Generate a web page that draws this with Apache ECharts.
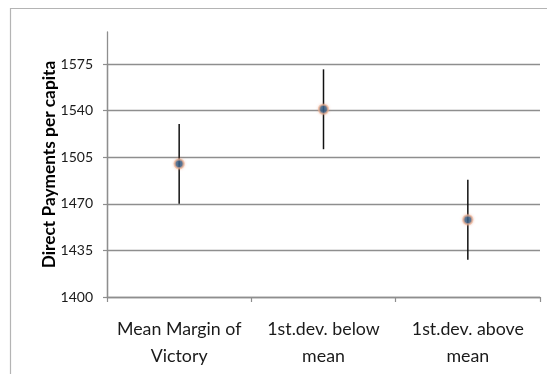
<!DOCTYPE html>
<html>
<head>
<meta charset="utf-8">
<script src="https://cdn.jsdelivr.net/npm/echarts@6/dist/echarts.min.js"></script>
<style>
  html, body { margin: 0; padding: 0; background: #fff; }
  #chart { width: 547px; height: 374px; }
</style>
</head>
<body>
<div id="chart"></div>
<script>
// Groups along the horizontal axis
const categories = ['Mean Margin of\nVictory', '1st.dev. below\nmean', '1st.dev. above\nmean'];
// Point estimates and the ends of their error bars
const means = [1500, 1541, 1458];
const lower = [1470, 1511, 1428];
const upper = [1530, 1571, 1488];
// Value axis range and step
const yMin = 1400;
const yMax = 1575;
const yStep = 35;
const yAxisTitle = 'Direct Payments per capita';

const chart = echarts.init(document.getElementById('chart'), null, { renderer: 'canvas' });

const labelFont = 'Lato, "Open Sans", sans-serif';
const gridColor = '#8e8e8e';
const plotLeft = 107, plotRight = 7, plotBottom = 77;

chart.setOption({
  animation: false,
  backgroundColor: '#fff',
  graphic: [{
    type: 'rect',
    shape: { x: 10.5, y: 8.5, width: 600, height: 420 },
    style: { fill: 'none', stroke: '#b4b4b4', lineWidth: 1.2 },
    silent: true
  }],
  grid: [
    { left: plotLeft, right: plotRight, top: 64, bottom: plotBottom },
    // taller plot frame: upward extension of the value axis line and the axis title
    { left: plotLeft, right: plotRight, top: 32, bottom: plotBottom }
  ],
  xAxis: [{
    type: 'category',
    gridIndex: 0,
    data: categories,
    boundaryGap: true,
    axisLine: { lineStyle: { color: gridColor, width: 1.3 } },
    axisTick: { show: true, length: 5, lineStyle: { color: gridColor, width: 1.2 } },
    axisLabel: {
      interval: 0,
      hideOverlap: false,
      color: '#1a1a1a',
      fontFamily: labelFont,
      fontSize: 17.8,
      lineHeight: 27,
      margin: 19
    }
  }, {
    type: 'category', gridIndex: 1, data: categories, show: false
  }],
  yAxis: [{
    type: 'value',
    gridIndex: 0,
    min: yMin,
    max: yMax,
    interval: yStep,
    axisLine: { show: true, lineStyle: { color: gridColor, width: 1.3 } },
    axisTick: { show: true, length: 4, lineStyle: { color: gridColor, width: 1.2 } },
    axisLabel: {
      color: '#1a1a1a',
      fontFamily: labelFont,
      fontSize: 14,
      margin: 14,
      formatter: v => String(v)
    },
    splitLine: { show: true, lineStyle: { color: gridColor, width: 1.3 } }
  }, {
    type: 'value',
    gridIndex: 1,
    min: 0,
    max: 1,
    name: yAxisTitle,
    nameLocation: 'middle',
    nameGap: 49,
    nameRotate: 90,
    nameTextStyle: {
      color: '#000',
      fontFamily: labelFont,
      fontWeight: 'bold',
      fontSize: 17.3
    },
    axisLine: { show: true, lineStyle: { color: gridColor, width: 1.3 } },
    axisTick: { show: false },
    axisLabel: { show: false },
    splitLine: { show: false }
  }],
  series: [{
    // vertical error bars
    type: 'custom',
    xAxisIndex: 0,
    yAxisIndex: 0,
    data: categories.map((c, i) => [i, lower[i], upper[i]]),
    renderItem: function (params, api) {
      const lo = api.coord([api.value(0), api.value(1)]);
      const hi = api.coord([api.value(0), api.value(2)]);
      return {
        type: 'line',
        shape: { x1: lo[0], y1: lo[1], x2: hi[0], y2: hi[1] },
        style: { stroke: '#111', lineWidth: 1.5 }
      };
    },
    z: 2
  }, {
    type: 'scatter',
    xAxisIndex: 0,
    yAxisIndex: 0,
    data: means,
    symbol: 'circle',
    symbolSize: 9,
    itemStyle: {
      color: '#1d5587',
      borderColor: 'rgba(236,176,146,0.8)',
      borderWidth: 2.2,
      shadowBlur: 3,
      shadowColor: 'rgba(230,150,120,0.5)'
    },
    z: 3
  }]
});
</script>
</body>
</html>
